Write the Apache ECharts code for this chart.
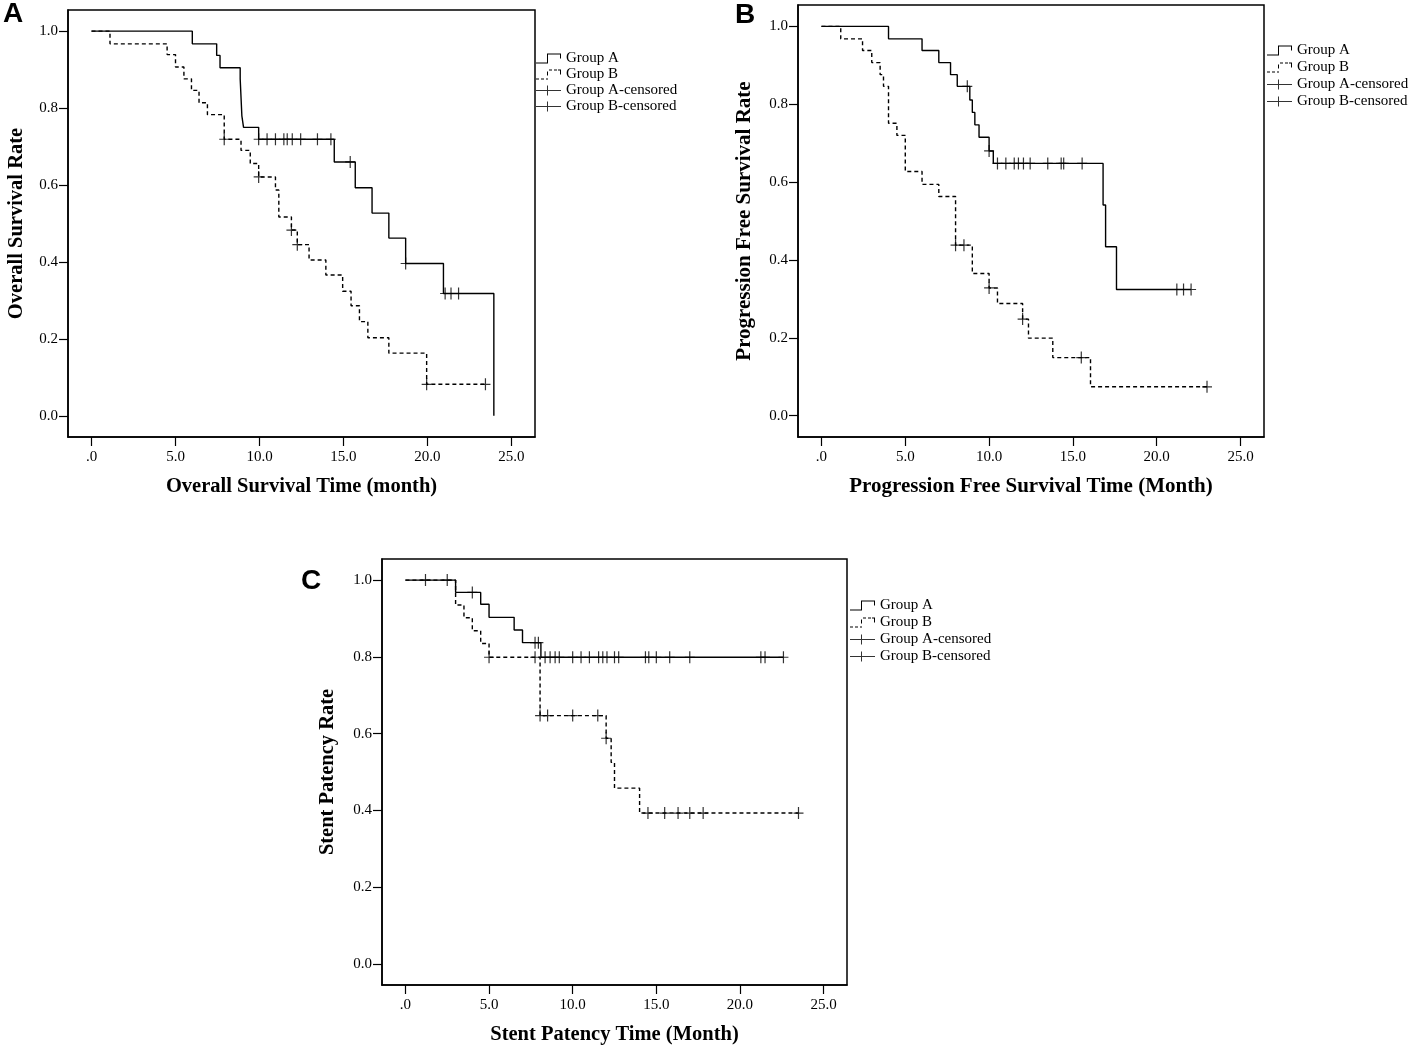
<!DOCTYPE html>
<html>
<head>
<meta charset="utf-8">
<title>Kaplan-Meier curves</title>
<script src="https://cdn.jsdelivr.net/npm/echarts@6/dist/echarts.min.js"></script>
<style>
  html, body { margin: 0; padding: 0; background: #fff; }
  #main { width: 1417px; height: 1050px; }
</style>
</head>
<body>
<div id="main"></div>
<script>
// tick labels shared by the three panels
var xTicks = [0, 5, 10, 15, 20, 25];
var yTicks = [0, 0.2, 0.4, 0.6, 0.8, 1.0];

// A - overall survival, [month, rate] at each step
var osA = [[0, 1], [6.0, 0.967], [7.45, 0.937], [7.65, 0.905], [8.85, 0.876], [8.95, 0.78], [9.05, 0.75],
  [9.95, 0.719], [14.45, 0.66], [15.7, 0.593], [16.7, 0.527], [17.7, 0.462], [18.7, 0.396],
  [20.95, 0.318], [23.95, 0]];
var osB = [[0, 1], [1.1, 0.967], [4.5, 0.939], [5.0, 0.907], [5.5, 0.876], [5.95, 0.846], [6.4, 0.814],
  [6.9, 0.783], [7.9, 0.719], [8.9, 0.69], [9.45, 0.656], [9.95, 0.621], [10.95, 0.587], [11.15, 0.517],
  [11.9, 0.483], [12.25, 0.445], [12.95, 0.405], [13.95, 0.366], [14.95, 0.324], [15.45, 0.286],
  [15.95, 0.245], [16.45, 0.203], [17.7, 0.163], [19.95, 0.082], [23.45, 0.082]];
var osCensA = [[9.95, 0.719], [10.45, 0.719], [10.95, 0.719], [11.45, 0.719], [11.65, 0.719], [11.95, 0.719],
  [12.45, 0.719], [13.45, 0.719], [14.25, 0.719], [15.4, 0.66], [18.7, 0.396], [21.05, 0.318],
  [21.4, 0.318], [21.85, 0.318]];
var osCensB = [[7.9, 0.719], [9.95, 0.621], [11.9, 0.483], [12.25, 0.445], [19.95, 0.082], [23.45, 0.082]];

// B - progression free survival
var pfsA = [[0, 1], [4.0, 0.968], [6.0, 0.938], [7.0, 0.907], [7.7, 0.876], [8.1, 0.846], [8.85, 0.811],
  [9.0, 0.779], [9.15, 0.747], [9.4, 0.715], [10.0, 0.68], [10.25, 0.648], [16.8, 0.541],
  [16.95, 0.434], [17.6, 0.324], [22.05, 0.324]];
var pfsB = [[0, 1], [1.15, 0.968], [2.45, 0.938], [3.0, 0.907], [3.5, 0.876], [3.7, 0.846], [4.0, 0.751],
  [4.5, 0.72], [5.0, 0.627], [6.0, 0.594], [7.0, 0.563], [8.0, 0.438], [9.0, 0.365], [10.0, 0.328],
  [10.5, 0.288], [12.0, 0.248], [12.35, 0.199], [13.8, 0.149], [16.05, 0.074], [23.0, 0.074]];
var pfsCensA = [[8.7, 0.846], [10.0, 0.68], [10.5, 0.648], [11.0, 0.648], [11.5, 0.648], [11.75, 0.648],
  [12.05, 0.648], [12.45, 0.648], [13.5, 0.648], [14.3, 0.648], [14.45, 0.648], [15.55, 0.648],
  [21.2, 0.324], [21.6, 0.324], [22.05, 0.324]];
var pfsCensB = [[8.0, 0.438], [8.5, 0.438], [10.0, 0.328], [12.0, 0.248], [15.5, 0.149], [23.0, 0.074]];

// C - stent patency
var spA = [[0, 1], [3.0, 0.968], [4.5, 0.937], [5.0, 0.903], [6.5, 0.87], [7.0, 0.837], [8.1, 0.799],
  [22.6, 0.799]];
var spB = [[0, 1], [3.0, 0.935], [3.5, 0.902], [4.0, 0.868], [4.5, 0.835], [5.0, 0.799], [8.05, 0.647],
  [12.0, 0.588], [12.3, 0.525], [12.5, 0.458], [14.0, 0.393], [23.5, 0.393]];
var spCensA = [[1.2, 1], [2.5, 1], [4.0, 0.968], [7.75, 0.837], [7.95, 0.837], [8.35, 0.799], [8.65, 0.799],
  [8.95, 0.799], [9.2, 0.799], [10.0, 0.799], [10.5, 0.799], [11.0, 0.799], [11.55, 0.799], [11.8, 0.799],
  [12.05, 0.799], [12.5, 0.799], [12.75, 0.799], [14.35, 0.799], [14.55, 0.799], [15.0, 0.799],
  [15.8, 0.799], [17.0, 0.799], [21.25, 0.799], [21.5, 0.799], [22.6, 0.799]];
var spCensB = [[5.0, 0.799], [7.75, 0.799], [8.05, 0.647], [8.5, 0.647], [10.0, 0.647], [11.5, 0.647],
  [12.0, 0.588], [14.5, 0.393], [15.5, 0.393], [16.3, 0.393], [17.0, 0.393], [17.8, 0.393], [23.5, 0.393]];

var serif = "'Liberation Serif', 'DejaVu Serif', serif";
var plus = 'path://M4.4,0 H5.6 V5.4 H10 V6.6 H5.6 V12 H4.4 V6.6 H0 V5.4 H4.4 Z';

// legend icons drawn like the SPSS ones
var iconSolid = 'path://M0,9 H11 V0 H25 V5 H24 V1 H12 V10 H0 Z';
var iconDash = 'path://M0,9 h3 v1 h-3 Z M5,9 h3 v1 h-3 Z M10,9 h2 v1 h-2 Z M11,2 h1 v4 h-1 Z ' +
  'M13,0 h3 v1 h-3 Z M18,0 h3 v1 h-3 Z M22,0 h3 v1 h-3 Z M24,1 h1 v4 h-1 Z';
var iconCens = 'path://M0,4.5 H25 V5.5 H0 Z M11,0 H12 V10 H11 Z';

var panels = [
  {grid: {left: 68, top: 10, width: 467, height: 427}, xName: 'Overall Survival Time (month)',
    yName: 'Overall Survival Rate', yGap: 41, nameSize: 20.5, curves: [osA, osB, osCensA, osCensB],
    letter: {left: 3, top: 0}, legend: {left: 536, top: 51, gap: 1}},
  {grid: {left: 798, top: 5, width: 466, height: 432}, xName: 'Progression Free Survival Time (Month)',
    yName: 'Progression Free Survival Rate', yGap: 43, nameSize: 21, curves: [pfsA, pfsB, pfsCensA, pfsCensB],
    letter: {left: 735, top: 1}, legend: {left: 1267, top: 43, gap: 2}},
  {grid: {left: 382, top: 559, width: 465, height: 426}, xName: 'Stent Patency Time (Month)',
    yName: 'Stent Patency Rate', yGap: 44, nameSize: 20.5, curves: [spA, spB, spCensA, spCensB],
    letter: {left: 301, top: 567}, legend: {left: 850, top: 598, gap: 2}}
];

var option = {
  animation: false,
  backgroundColor: '#fff',
  title: [], grid: [], xAxis: [], yAxis: [], legend: [], series: []
};

panels.forEach(function (p, i) {
  option.title.push({
    text: ['A', 'B', 'C'][i], left: p.letter.left, top: p.letter.top, padding: 0,
    textStyle: {fontFamily: "'Liberation Sans', Arial, sans-serif", fontSize: 28, fontWeight: 'bold', color: '#000'}
  });
  option.grid.push({
    left: p.grid.left, top: p.grid.top, width: p.grid.width, height: p.grid.height,
    show: true, borderColor: '#000', borderWidth: 1.5, backgroundColor: 'transparent'
  });
  option.xAxis.push({
    gridIndex: i, type: 'value', min: -1.4, max: 26.4,
    name: p.xName, nameLocation: 'middle', nameGap: 39,
    nameTextStyle: {fontFamily: serif, fontSize: p.nameSize, fontWeight: 'bold', color: '#000'},
    axisLine: {show: true, onZero: false, lineStyle: {color: '#000', width: 1.5}},
    axisTick: {show: true, customValues: xTicks, length: 9, lineStyle: {color: '#000', width: 1.2}},
    axisLabel: {
      customValues: xTicks, margin: 13, color: '#000', fontFamily: serif, fontSize: 15,
      formatter: function (v) { return v === 0 ? '.0' : v.toFixed(1); }
    },
    splitLine: {show: false}
  });
  option.yAxis.push({
    gridIndex: i, type: 'value', min: -0.055, max: 1.055,
    name: p.yName, nameLocation: 'middle', nameGap: p.yGap,
    nameTextStyle: {fontFamily: serif, fontSize: p.nameSize, fontWeight: 'bold', color: '#000'},
    axisLine: {show: true, onZero: false, lineStyle: {color: '#000', width: 1.5}},
    axisTick: {show: true, customValues: yTicks, length: 9, lineStyle: {color: '#000', width: 1.2}},
    axisLabel: {
      customValues: yTicks, margin: 10, color: '#000', fontFamily: serif, fontSize: 15,
      formatter: function (v) { return v.toFixed(1); }
    },
    splitLine: {show: false}
  });
  option.legend.push({
    orient: 'vertical', left: p.legend.left, top: p.legend.top, padding: 0,
    itemWidth: 25, itemHeight: 10, itemGap: p.legend.gap, selectedMode: false,
    itemStyle: {color: '#000', borderWidth: 0},
    textStyle: {fontFamily: serif, fontSize: 15, color: '#000'},
    data: [
      {name: 'Group A', icon: iconSolid},
      {name: 'Group B', icon: iconDash},
      {name: 'Group A-censored', icon: iconCens},
      {name: 'Group B-censored', icon: iconCens}
    ]
  });
  // survival steps
  option.series.push({
    name: 'Group A', type: 'line', step: 'end', xAxisIndex: i, yAxisIndex: i,
    data: p.curves[0], showSymbol: false, color: '#000',
    lineStyle: {color: '#000', width: 1.4}
  });
  option.series.push({
    name: 'Group B', type: 'line', step: 'end', xAxisIndex: i, yAxisIndex: i,
    data: p.curves[1], showSymbol: false, color: '#000',
    lineStyle: {color: '#000', width: 1.4, type: [4, 3]}
  });
  // censored marks
  option.series.push({
    name: 'Group A-censored', type: 'scatter', xAxisIndex: i, yAxisIndex: i, z: 3,
    data: p.curves[2], symbol: plus, symbolSize: [10, 12], itemStyle: {color: '#000'}
  });
  option.series.push({
    name: 'Group B-censored', type: 'scatter', xAxisIndex: i, yAxisIndex: i, z: 3,
    data: p.curves[3], symbol: plus, symbolSize: [10, 12], itemStyle: {color: '#000'}
  });
});

var chart = echarts.init(document.getElementById('main'));
chart.setOption(option);
</script>
</body>
</html>
